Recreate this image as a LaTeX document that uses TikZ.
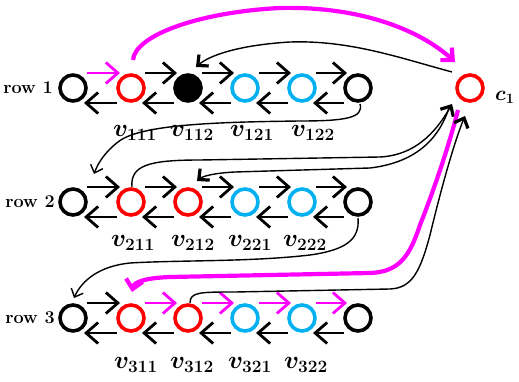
\documentclass[tikz,border=0pt]{standalone}
\usetikzlibrary{arrows.meta,calc}
\definecolor{nred}{RGB}{255,0,0}
\definecolor{ncyan}{RGB}{0,176,240}
\definecolor{nmag}{RGB}{255,0,255}
\begin{document}
\begin{tikzpicture}[x=1pt,y=-1pt,
  nd/.style={circle,line width=3.6pt,minimum size=26pt,inner sep=0pt},
  bk/.style={nd,draw=black},
  rd/.style={nd,draw=nred},
  cy/.style={nd,draw=ncyan},
  sa/.style={line width=2.8pt,-{Straight Barb[length=12pt,width=21pt]}},
  lab/.style={font=\fontsize{25}{27}\selectfont\boldmath},
  rowlab/.style={font=\fontsize{18}{20}\selectfont\bfseries},
  thn/.style={line width=1.4pt},
  thintip/.style={thn,-{Straight Barb[length=7pt,width=13pt]}},
  fattip/.style={thn,-{Straight Barb[length=8pt,width=15pt,line width=3.2pt]}},
  big/.style={line width=4.2pt,draw=nmag,-{Straight Barb[length=9pt,width=17pt]}},
  ]
\useasboundingbox (0,0) rectangle (519,382);

% nodes
\foreach \r/\y/\dc/\fc in {1/88/black/black,2/202/nred/none,3/318/nred/none} {
  \node[bk] (r\r a) at (73,\y) {};
  \node[rd] (r\r b) at (131,\y) {};
  \node[nd,draw=\dc,fill=\fc] (r\r c) at (188,\y) {};
  \node[cy] (r\r d) at (245,\y) {};
  \node[cy] (r\r e) at (302,\y) {};
  \node[bk] (r\r f) at (358,\y) {};
}
\node[rd] (c1) at (470,88) {};

% row labels
\node[rowlab] (row1) at (28,88) {row 1};
\node[rowlab] (row2) at (30,202) {row 2};
\node[rowlab] (row3) at (30,318) {row 3};
\node[font=\fontsize{22}{24}\selectfont\boldmath,anchor=west,inner sep=1pt] (c1lab) at (494,97) {$c_1$};

% vertex labels
\node[lab] (l111) at (135,133) {$v_{111}$};
\node[lab] (l112) at (192,133) {$v_{112}$};
\node[lab] (l121) at (252,133) {$v_{121}$};
\node[lab] (l122) at (313,133) {$v_{122}$};
\node[lab] (l211) at (133,243) {$v_{211}$};
\node[lab] (l212) at (193,243) {$v_{212}$};
\node[lab] (l221) at (250,243) {$v_{221}$};
\node[lab] (l222) at (305,243) {$v_{222}$};
\node[lab] (l311) at (136,365) {$v_{311}$};
\node[lab] (l312) at (192,365) {$v_{312}$};
\node[lab] (l321) at (250,365) {$v_{321}$};
\node[lab] (l322) at (306,365) {$v_{322}$};

% short arrows between neighbours
\foreach \r/\p/\q/\c in {1/a/b/nmag,1/b/c/black,1/c/d/black,1/d/e/black,1/e/f/black,
                          2/a/b/black,2/b/c/black,2/c/d/black,2/d/e/black,2/e/f/black,
                          3/a/b/black,3/b/c/nmag,3/c/d/nmag,3/d/e/nmag,3/e/f/nmag} {
  \draw[sa,draw=\c] ($(r\r\p.center)+(14,-15)$) -- ($(r\r\q.center)+(-11,-15)$);
  \draw[sa] ($(r\r\q.center)+(-14,15)$) -- ($(r\r\p.center)+(11,15)$);
}

% long connectors
\coordinate (m1s) at ($(r1b.center)+(2,-28)$);
\coordinate (m1e) at ($(c1.center)+(-15,-26)$);
\draw[big] (m1s) .. controls (135,35) and (200,12) .. (280,8)
  .. controls (360,6) and (420,30) .. (m1e);

\coordinate (b2s) at ($(c1.center)+(-18,-16)$);
\coordinate (b2e) at ($(r1c.center)+(8,-21)$);
\draw[fattip] (b2s) .. controls (400,58) and (350,40) .. (290,42)
  .. controls (240,45) and (210,55) .. (b2e);

\coordinate (b3s) at ($(r1f.center)+(2,16)$);
\coordinate (b3e) at ($(r2a.center)+(21,-28)$);
\draw[thintip] (b3s) .. controls (364,118) and (345,121) .. (300,121)
  .. controls (220,122) and (140,124) .. (118,142)
  .. controls (105,152) and (98,163) .. (b3e);

\coordinate (b4s) at ($(r2b.center)+(1,-15)$);
\coordinate (b4e) at ($(c1.center)+(-18,16)$);
\draw[fattip] (b4s) .. controls (130,165) and (150,160) .. (200,160) -- (380,157)
  .. controls (420,155) and (440,125) .. (b4e);

\coordinate (b5s) at ($(c1.center)+(-21,20)$);
\coordinate (b5e) at ($(r2c.center)+(9,-21)$);
\draw[fattip] (b5s) .. controls (440,135) and (420,162) .. (370,168) -- (235,172)
  .. controls (215,173) and (203,176) .. (b5e);

\coordinate (b6s) at ($(r2f.center)+(0,16)$);
\coordinate (b6e) at ($(r3a.center)+(1,-20)$);
\draw[thintip] (b6s) .. controls (360,240) and (345,250) .. (310,255)
  .. controls (250,262) and (180,260) .. (130,263)
  .. controls (100,266) and (82,280) .. (b6e);

\coordinate (m7s) at ($(c1.center)+(-12,22)$);
\coordinate (m7e) at ($(r3b.center)+(1,-26)$);
\draw[big] (m7s) .. controls (448,150) and (430,200) .. (420,225)
  .. controls (410,255) and (400,272) .. (370,273) -- (170,277)
  .. controls (145,278) and (134,282) .. (m7e);

\coordinate (b8s) at ($(r3c.center)+(2,-15)$);
\coordinate (b8e) at ($(c1.center)+(-5,28)$);
\draw[fattip] (b8s) .. controls (190,292) and (200,292) .. (235,292) -- (390,289)
  .. controls (412,288) and (420,272) .. (430,235)
  .. controls (442,185) and (455,140) .. (b8e);
\end{tikzpicture}
\end{document}
